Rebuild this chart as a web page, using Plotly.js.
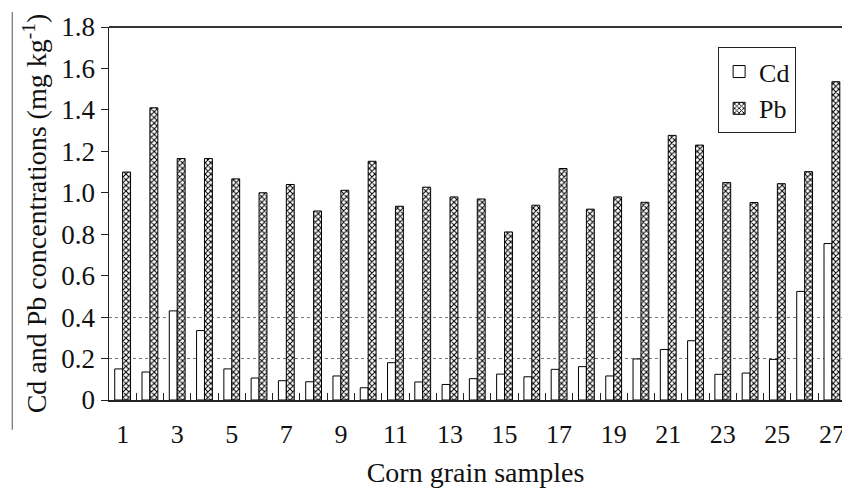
<!DOCTYPE html>
<html>
<head>
<meta charset="utf-8">
<script src="https://cdn.plot.ly/plotly-3.0.1.min.js"></script>
<style>html,body{margin:0;padding:0;background:#fff;}#chart{width:842px;height:492px;}</style>
</head>
<body>
<div id="chart"></div>
<script>
const samples = ['1','2','3','4','5','6','7','8','9','10','11','12','13','14','15','16','17','18','19','20','21','22','23','24','25','26','27'];
const cd = [0.15,0.135,0.43,0.335,0.15,0.106,0.093,0.088,0.116,0.059,0.18,0.087,0.075,0.103,0.125,0.112,0.148,0.161,0.116,0.198,0.244,0.286,0.124,0.13,0.196,0.524,0.755];
const pb = [1.10,1.41,1.165,1.165,1.067,1.00,1.04,0.912,1.012,1.152,0.935,1.027,0.98,0.97,0.811,0.94,1.117,0.921,0.98,0.954,1.277,1.23,1.049,0.953,1.044,1.102,1.536];
const xTickText = samples.map((s, i) => (i % 2 === 0 ? s : ''));
const yTickVals = [0,0.2,0.4,0.6,0.8,1.0,1.2,1.4,1.6,1.8];
const yTickText = ['0','0.2','0.4','0.6','0.8','1.0','1.2','1.4','1.6','1.8'];
const refLines = [0.2, 0.4];

const font = 'Liberation Serif';

const traces = [
  {type:'bar', name:'Cd', x:samples, y:cd,
   marker:{color:'#ffffff', line:{color:'#000', width:1}}},
  {type:'bar', name:'Pb', x:samples, y:pb,
   marker:{color:'#ffffff', line:{color:'#000', width:1},
           pattern:{shape:'x', fgcolor:'#000', bgcolor:'#fff', size:4, solidity:0.45}}},
  {type:'scatter', x:[samples[0]], y:[null], yaxis:'y2', showlegend:false, hoverinfo:'skip'}
];

const layout = {
  width:842, height:492,
  margin:{l:109, r:0, t:27, b:92},
  paper_bgcolor:'#fff', plot_bgcolor:'rgba(0,0,0,0)',
  font:{family:font, size:26, color:'#111'},
  barmode:'group', bargap:0.42, bargroupgap:0,
  showlegend:true,
  legend:{x:0.831, y:0.946, xanchor:'left', yanchor:'top',
          bordercolor:'#222', borderwidth:1, bgcolor:'#fff',
          font:{family:font, size:26, color:'#111'}, tracegroupgap:0},
  xaxis:{type:'category', range:[-0.5, 26.37],
         tickvals:samples, ticktext:xTickText, tickangle:0,
         tickson:'boundaries', ticks:'inside', ticklen:7, tickcolor:'#222', tickwidth:1,
         ticklabelstandoff:10,
         showline:true, linecolor:'#222', linewidth:1.5, mirror:false,
         showgrid:false, zeroline:false,
         tickfont:{family:font, size:26, color:'#111'},
         title:{text:'Corn grain samples', font:{family:font, size:28, color:'#111'}, standoff:14}},
  yaxis:{range:[0,1.8], tickvals:yTickVals, ticktext:yTickText,
         ticks:'outside', ticklen:7, tickcolor:'#222', tickwidth:1,
         showline:true, linecolor:'#222', linewidth:1.5,
         showgrid:false, zeroline:false,
         tickfont:{family:font, size:27, color:'#111'},
         title:{text:'Cd and Pb concentrations (mg kg<sup>-1</sup>)', font:{family:font, size:28, color:'#111'}, standoff:6}},
  yaxis2:{overlaying:'y', range:[0,1.8], tickvals:refLines, showticklabels:false,
          ticks:'', showgrid:true, gridcolor:'#777', gridwidth:1, griddash:'dot',
          zeroline:false, showline:false},
  shapes:[
    {type:'line', xref:'paper', yref:'paper', x0:0, x1:1, y0:1, y1:1, line:{color:'#333', width:2}},
    {type:'line', xref:'paper', yref:'paper', x0:-0.132, x1:-0.132, y0:-0.08, y1:1.04, line:{color:'#555', width:1}}
  ]
};

Plotly.newPlot('chart', traces, layout, {staticPlot:true, displayModeBar:false});
</script>
</body>
</html>
